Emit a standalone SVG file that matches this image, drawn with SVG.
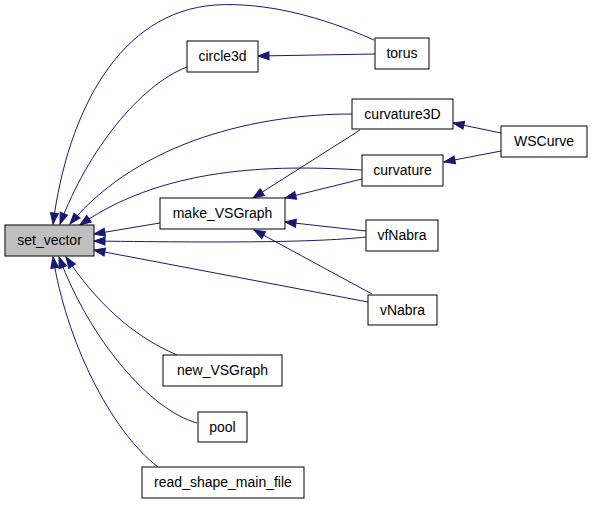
<svg xmlns="http://www.w3.org/2000/svg" width="592" height="505" viewBox="0 0 592 505">
<style>
.node rect{fill:#ffffff;stroke:#000000;stroke-width:1}
.node text{font-family:"Liberation Sans",Arial,sans-serif;font-size:14px;text-anchor:middle;fill:#000000}
#edges path{fill:none;stroke:#191970;stroke-width:1;marker-end:url(#ah)}
</style>
<defs>
<marker id="ah" markerUnits="userSpaceOnUse" markerWidth="13" markerHeight="10" refX="11.5" refY="4.5" orient="auto" overflow="visible">
<path d="M0.5,0.5 L11.5,4.5 L0.5,8.5 z" fill="#191970" stroke="#191970" stroke-width="1"/>
</marker>
</defs>
<rect width="592" height="505" fill="#ffffff"/>
<g id="edges">
<path d="M374,40 C320,16 265,2 215,5 C120,12 68,110 53,224"/>
<path d="M187,67 C140,85 88,150 60,224"/>
<path d="M352,114 C260,114 140,140 70,224"/>
<path d="M362,170 C290,166 170,162 80,225"/>
<path d="M160,223 L94,234"/>
<path d="M366,237 C320,242 240,243 94,241"/>
<path d="M368,302 L94,250"/>
<path d="M177,355 C130,335 95,300 66,257"/>
<path d="M197,423 C150,410 90,340 59,257"/>
<path d="M158,467 C110,430 66,340 53,257"/>
<path d="M375,54 L258,56"/>
<path d="M360,130 L253,198"/>
<path d="M362,179 L285,198"/>
<path d="M366,231 L285,222"/>
<path d="M372,294 L254,230"/>
<path d="M501,133 L453,123"/>
<path d="M501,151 L444,162"/>
</g>
<g id="set_vector" class="node"><rect x="5" y="225" width="89" height="31" style="fill:#bfbfbf"/><text x="49.5" y="245">set_vector</text></g>
<g id="make_VSGraph" class="node"><rect x="160" y="198" width="125" height="31"/><text x="222.5" y="218">make_VSGraph</text></g>
<g id="circle3d" class="node"><rect x="187" y="41" width="71" height="31"/><text x="222.5" y="61">circle3d</text></g>
<g id="torus" class="node"><rect x="375" y="38" width="54" height="31"/><text x="402" y="58">torus</text></g>
<g id="curvature3D" class="node"><rect x="352" y="99" width="101" height="30"/><text x="402.5" y="119">curvature3D</text></g>
<g id="WSCurve" class="node"><rect x="501" y="126" width="86" height="31"/><text x="544" y="146">WSCurve</text></g>
<g id="curvature" class="node"><rect x="362" y="155" width="81" height="31"/><text x="402.5" y="175">curvature</text></g>
<g id="vfNabra" class="node"><rect x="366" y="220" width="72" height="31"/><text x="402" y="240">vfNabra</text></g>
<g id="vNabra" class="node"><rect x="368" y="295" width="69" height="30"/><text x="402.5" y="315">vNabra</text></g>
<g id="new_VSGraph" class="node"><rect x="163" y="355" width="119" height="31"/><text x="222.5" y="375">new_VSGraph</text></g>
<g id="pool" class="node"><rect x="198" y="412" width="49" height="30"/><text x="222.5" y="432">pool</text></g>
<g id="read_shape_main_file" class="node"><rect x="142" y="467" width="162" height="31"/><text x="223" y="487">read_shape_main_file</text></g>
</svg>
